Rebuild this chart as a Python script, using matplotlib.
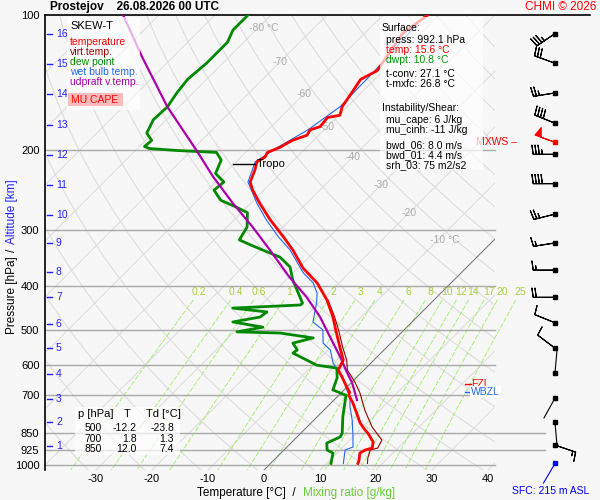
import numpy as np
import matplotlib.pyplot as plt
from matplotlib.patches import Rectangle
from matplotlib.transforms import blended_transform_factory

plt.rcParams['font.family'] = ['Liberation Sans', 'DejaVu Sans']

# ---- sounding: pressure [hPa], temperature [deg C] ----
t_pres = [100, 110, 133, 139, 145, 160, 167, 169, 177, 180, 185, 190, 197, 202,
          207, 212, 221, 235, 245, 262, 285, 311, 333, 365, 394, 430, 469, 501,
          547, 584, 615, 637, 674, 689, 700, 728, 767, 807, 836, 850, 889, 917,
          926, 941, 975, 992]
t_temp = [-52.0, -53.2, -51.1, -52.5, -52.0, -50.9, -49.8, -51.6, -51.3, -52.5,
          -52.1, -53.8, -54.8, -56.1, -55.7, -56.3, -55.2, -53.9, -52.0, -48.4,
          -43.6, -38.2, -34.1, -29.1, -23.9, -19.1, -15.0, -12.2, -8.4, -5.5,
          -4.6, -2.7, 0.2, 1.4, 1.8, 3.9, 6.4, 8.8, 10.9, 12.0, 14.5, 15.4,
          14.5, 14.1, 15.2, 15.6]

tv_pres = [430, 469, 501, 547, 584, 616, 655, 692, 755, 823, 880, 917, 926, 965, 992]
tv_temp = [-18.9, -14.7, -11.7, -7.9, -4.9, -2.9, 0.6, 3.4, 7.3, 11.6, 15.7,
           16.4, 15.4, 16.4, 17.3]

td_pres = [100, 108, 115, 128, 139, 149, 160, 171, 183, 190, 196, 198, 200, 202,
           210, 225, 235, 245, 258, 267, 275, 296, 316, 324, 338, 345, 363, 388,
           408, 437, 441, 448, 457, 469, 481, 494, 506, 509, 522, 536, 555, 564,
           600, 609, 640, 681, 700, 782, 850, 866, 894, 926, 941, 992]
td_temp = [-84.1, -84.1, -82.9, -82.9, -83.4, -82.9, -82.1, -82.3, -81.1, -78.9,
           -79.1, -77.9, -72.7, -65.2, -63.0, -61.6, -58.6, -58.9, -55.9, -52.0,
           -48.9, -46.4, -45.5, -42.7, -37.7, -35.2, -31.6, -28.8, -26.3, -22.9,
           -23.0, -34.5, -27.7, -28.0, -32.0, -25.7, -29.5, -21.6, -14.8, -17.5,
           -15.5, -15.7, -9.3, -5.2, -3.4, -2.0, 1.3, 4.6, 7.4, 7.7, 6.4, 7.7,
           9.3, 10.8]

wb_pres = [100, 133, 160, 180, 197, 212, 235, 262, 285, 311, 333, 374, 394, 415,
           437, 481, 501, 536, 555, 593, 640, 681, 706, 743, 794, 850, 912, 926, 992]
wb_temp = [-52.4, -51.5, -51.3, -52.9, -55.2, -56.6, -54.3, -48.9, -44.3, -39.1,
           -34.6, -28.2, -24.6, -22.1, -20.4, -17.7, -14.5, -12.1, -9.6, -6.8,
           -2.5, 0.5, 2.3, 4.1, 6.8, 9.3, 11.8, 10.9, 13.0]

parcel_pres = [100, 124, 160, 200, 229, 262, 296, 333, 383, 424, 469, 519, 575,
               624, 657, 717]
parcel_temp = [-106.4, -95.5, -82.1, -69.1, -61.4, -53.2, -45.4, -38.2, -29.8,
               -23.2, -17.3, -12.0, -6.6, -2.5, 0.2, 4.1]

tropo_p, tropo_t = 214, -56.3
fzl_p, wbzl_p = 661, 688

# wind barbs: pressure [hPa], direction [deg], speed [kt]
wind_pres = [110, 128, 149, 174, 204, 237, 277, 321, 369, 424, 483, 550, 903]
wind_dir = [236, 290, 261, 292, 270, 270, 256, 261, 270, 270, 292, 307, 109]
wind_spd = [35, 30, 25, 40, 35, 40, 25, 15, 15, 20, 10, 10, 15]
calm_pres = [624, 710, 804]
calm_dir = [5, 209, 175]
mxws_p, mxws_dir, mxws_spd = 192, 290, 50

# altitude scale: km -> pressure
alt_km = list(range(1, 17))
alt_pres = [907, 803, 713, 628, 550, 486, 423, 373, 321, 278, 239, 205, 176,
            150, 128.5, 110]

p_ticks = [100, 200, 300, 400, 500, 600, 700, 850, 925, 1000]
t_ticks = [-30, -20, -10, 0, 10, 20, 30, 40]
iso_lab_t = [-80, -70, -60, -50, -40, -30, -20, -10]
iso_lab_p = [107, 127, 150, 177, 207, 239, 275, 316]
mix_w = [0.2, 0.4, 0.6, 1, 2, 3, 4, 6, 8, 10, 12, 14, 17, 20, 25]

tab_rows = [('500', '-12.2', '-23.8'), ('700', '1.8', '1.3'), ('850', '12.0', '7.4')]

# ---- geometry ----
W, H = 600, 500
K = 450 / 5.6            # skew, deg C per decade of pressure
P0 = 1025.9              # pressure at the bottom edge
XMIN = (45 - 264) / 5.6
XMAX = (590 - 264) / 5.6
XCLIP = (495 - 264) / 5.6


def sk(t, p):
    return np.asarray(t, float) + K * np.log10(P0 / np.asarray(p, float))


def fx(x):
    return x / W


def fy(y):
    return 1 - y / H


BG = '#f7f7f7'
fig = plt.figure(figsize=(6, 5), dpi=100, facecolor=BG)
ax = fig.add_axes([fx(45), fy(470), 545 / W, 455 / H], facecolor=BG)
ax.set_yscale('log')
ax.set_ylim(P0, 100)
ax.set_xlim(XMIN, XMAX)
for s in ['right', 'bottom']:
    ax.spines[s].set_visible(False)
ax.spines['left'].set_linewidth(1.2)
ax.spines['top'].set_linewidth(1.2)

ax.set_yticks(p_ticks)
ax.set_yticklabels([str(p) for p in p_ticks], fontsize=8)
ax.yaxis.set_minor_locator(plt.NullLocator())
ax.tick_params(axis='y', length=0, pad=4)
ax.set_xticks(t_ticks)
ax.set_xticklabels([str(t) for t in t_ticks], fontsize=8)
ax.tick_params(axis='x', length=0, pad=3)

clip = Rectangle((0, 0), (XCLIP - XMIN) / (XMAX - XMIN), 1, transform=ax.transAxes)
pp = np.geomspace(100, P0, 200)

# isobars
for p in p_ticks[1:]:
    xe = (545 - 264) / 5.6 if p in (850, 925) else XCLIP
    ax.plot([XMIN, xe], [p, p], color='#aaaaaa', lw=1, zorder=1)

# isotherms
for t in range(-120, 50, 10):
    ln, = ax.plot(sk(t, pp), pp, color='#dcdcdc', lw=0.8, zorder=0.5)
    ln.set_clip_path(clip)
ln, = ax.plot(sk(0, pp), pp, color='#777777', lw=0.7, zorder=1)
ln.set_clip_path(clip)

# dry adiabats
for th in range(230, 470, 10):
    tt = th * (pp / 1000.0) ** 0.2857 - 273.15
    ln, = ax.plot(sk(tt, pp), pp, color='#dcdcdc', lw=0.8, zorder=0.5)
    ln.set_clip_path(clip)

# mixing ratio lines
pm = np.geomspace(430, P0, 60)
for w in mix_w:
    e = w * pm / (622.0 + w)
    a = np.log(e / 6.112)
    td = 243.5 * a / (17.67 - a)
    ax.plot(sk(td, pm), pm, color='#99ee66', lw=0.6, dashes=(6, 2), zorder=0.8)
    e = w * 413 / (622.0 + w)
    a = np.log(e / 6.112)
    ax.text(sk(243.5 * a / (17.67 - a), 413), 413, f'{w:g}', color='#a6d040',
            fontsize=7.5, ha='center', va='center')

for t, p in zip(iso_lab_t, iso_lab_p):
    lab = f'{t}' + (' °C' if t in (-80, -10) else '')
    ax.annotate(lab, (sk(t, p), p), xytext=(-6 if t in (-80, -10) else 0, 0),
                textcoords='offset points', ha='left' if t in (-80, -10) else 'center',
                va='center', color='#aaaaaa', fontsize=7.5)

# profiles
ax.plot(sk(tv_temp, tv_pres), tv_pres, color='#990000', lw=0.8, zorder=3)
ax.plot(sk(wb_temp, wb_pres), wb_pres, color='#2266ee', lw=0.8, zorder=3)
ax.plot(sk(td_temp, td_pres), td_pres, color='#008800', lw=2, zorder=4)
ax.plot(sk(parcel_temp, parcel_pres), parcel_pres, color='#aa00aa', lw=1.6, zorder=4)
ax.plot(sk(t_temp, t_pres), t_pres, color='#ff0000', lw=2, zorder=5)

# tropopause
xt = sk(tropo_t, tropo_p)
ax.plot([xt - 3.9, xt], [tropo_p, tropo_p], color='k', lw=1, zorder=6)
ax.text(xt + 0.3, tropo_p, 'Tropo', fontsize=8, va='center', zorder=6)

# freezing / wet bulb zero level
xl = (465 - 264) / 5.6
ax.plot([xl, xl + 1], [fzl_p, fzl_p], color='red', lw=1)
ax.text(xl + 1.1, fzl_p, 'FZL', color='red', fontsize=7.5, va='center')
ax.plot([xl, xl + 1], [wbzl_p, wbzl_p], color='#2266ee', lw=1)
ax.text(xl + 1.1, wbzl_p, 'WBZL', color='#2266ee', fontsize=7.5, va='center',
        bbox=dict(facecolor='white', edgecolor='none', pad=0.5), zorder=6)

# altitude scale
tr = blended_transform_factory(ax.transAxes, ax.transData)
for km, p in zip(alt_km, alt_pres):
    ax.plot([2 / 545, 7 / 545], [p, p], color='#2222ff', lw=1, transform=tr)
    ax.text(11 / 545, p, str(km), color='#2222ff', fontsize=7.5, va='center',
            transform=tr)

# wind barbs
xb = (555 - 264) / 5.6
bsz = dict(height=0.42, width=0.12, spacing=0.14)
d = np.radians(wind_dir)
u = -np.array(wind_spd) * np.sin(d)
v = -np.array(wind_spd) * np.cos(d)
ax.barbs(np.full(len(wind_pres), xb), wind_pres, u, v, length=5.6, lw=0.8,
         sizes=bsz, color='k', clip_on=False, zorder=6)
ax.plot(np.full(len(wind_pres), xb), wind_pres, 's', ms=2.5, color='k', zorder=7)
for p, dd in zip(calm_pres, calm_dir):
    r = np.radians(dd)
    ax.annotate('', (xb, p), xytext=(16.5 * np.sin(r), 16.5 * np.cos(r)),
                textcoords='offset points',
                arrowprops=dict(arrowstyle='-', lw=0.8, color='k',
                                shrinkA=0, shrinkB=0))
    ax.plot([xb], [p], 's', ms=2.5, color='k')
r = np.radians(mxws_dir)
ax.barbs([xb], [mxws_p], [-mxws_spd * np.sin(r)], [-mxws_spd * np.cos(r)],
         length=5.6, lw=0.8, sizes=dict(height=0.42, width=0.3, spacing=0.14),
         color='red', zorder=6)
ax.plot([xb], [mxws_p], 's', ms=2.5, color='red', zorder=7)
ax.text((517 - 264) / 5.6, mxws_p, 'MXWS –', color='red', fontsize=7.5,
        ha='right', va='center')
ax.plot([xb], [t_pres[-1]], 's', ms=2.5, color='blue')
ax.annotate('SFC: 215 m ASL', (xb, t_pres[-1]), xytext=(fx(551), fy(491)),
            textcoords='figure fraction', color='blue', fontsize=7.5,
            ha='center', va='center',
            arrowprops=dict(arrowstyle='-', color='blue', lw=0.8, shrinkA=0,
                            shrinkB=0, relpos=(0.38, 1.0)))

# ---- boxes and texts ----
fig.add_artist(Rectangle((fx(67), fy(110)), 73 / W, 93 / H, transform=fig.transFigure,
                         facecolor='white', alpha=0.7, edgecolor='none', zorder=5))
leg = [('SKEW-T', 'k', 26), ('temperature', 'red', 42), ('virt.temp.', '#990000', 52),
       ('dew point', '#008800', 62), ('wet bulb temp.', '#2266ee', 72),
       ('udpraft v.temp.', '#aa00aa', 82)]
for s, c, y in leg:
    fig.text(fx(70), fy(y), s, color=c, fontsize=7.5 if y > 30 else 8, va='center',
             zorder=6)
fig.add_artist(Rectangle((fx(68), fy(106)), 55 / W, 13 / H, transform=fig.transFigure,
                         facecolor='#ffbbbb', edgecolor='none', zorder=6))
fig.text(fx(95), fy(100), 'MU CAPE', color='red', fontsize=7.5, ha='center',
         va='center', zorder=7)

fig.add_artist(Rectangle((fx(380), fy(170)), 103 / W, 153 / H, transform=fig.transFigure,
                         facecolor='white', alpha=0.7, edgecolor='none', zorder=5))
info = [('Surface:', 'k', 382, 28), ('press: 992.1 hPa', 'k', 386, 40),
        ('temp: 15.6 °C', 'red', 386, 50), ('dwpt: 10.8 °C', '#009900', 386, 60),
        ('t-conv: 27.1 °C', 'k', 386, 74), ('t-mxfc: 26.8 °C', 'k', 386, 84),
        ('Instability/Shear:', 'k', 382, 108), ('mu_cape: 6 J/kg', 'k', 386, 120),
        ('mu_cinh: -11 J/kg', 'k', 386, 130), ('bwd_06: 8.0 m/s', 'k', 386, 145),
        ('bwd_01: 4.4 m/s', 'k', 386, 155), ('srh_03: 75 m2/s2', 'k', 386, 165)]
for s, c, x, y in info:
    fig.text(fx(x), fy(y), s, color=c, fontsize=7.5, va='center', zorder=6)

fig.add_artist(Rectangle((fx(75), fy(455)), 105 / W, 48 / H, transform=fig.transFigure,
                         facecolor='white', alpha=0.7, edgecolor='none', zorder=5))
fig.text(fx(78), fy(414), 'p [hPa]', fontsize=8, va='center', zorder=6)
fig.text(fx(127), fy(414), 'T', fontsize=8, va='center', ha='center', zorder=6)
fig.text(fx(146), fy(414), 'Td [°C]', fontsize=8, va='center', zorder=6)
for (sp, st, sd), y in zip(tab_rows, [428, 439, 449]):
    fig.text(fx(102), fy(y), sp, fontsize=7.5, va='center', ha='right', zorder=6)
    fig.text(fx(137), fy(y), st, fontsize=7.5, va='center', ha='right', zorder=6)
    fig.text(fx(174), fy(y), sd, fontsize=7.5, va='center', ha='right', zorder=6)

fig.text(fx(50), fy(7), 'Prostejov    26.08.2026 00 UTC', fontsize=8.5,
         fontweight='bold', va='center')
fig.text(fx(596), fy(7), 'CHMI © 2026', color='red', fontsize=8.5, ha='right',
         va='center')
fig.text(fx(197), fy(493), 'Temperature [°C]  /', fontsize=8.5, va='center')
fig.text(fx(303), fy(493), 'Mixing ratio [g/kg]', fontsize=8.5, va='center',
         color='#66cc33')
fig.text(fx(12), fy(295), 'Pressure [hPa]', fontsize=8.5, rotation=90,
         ha='center', va='center')
fig.text(fx(12), fy(250), '/', fontsize=8.5, rotation=90, ha='center', va='center')
fig.text(fx(12), fy(212), 'Altitude [km]', fontsize=8.5, rotation=90,
         ha='center', va='center', color='#2222ff')

fig.savefig('out.png', dpi=100, facecolor=BG)
